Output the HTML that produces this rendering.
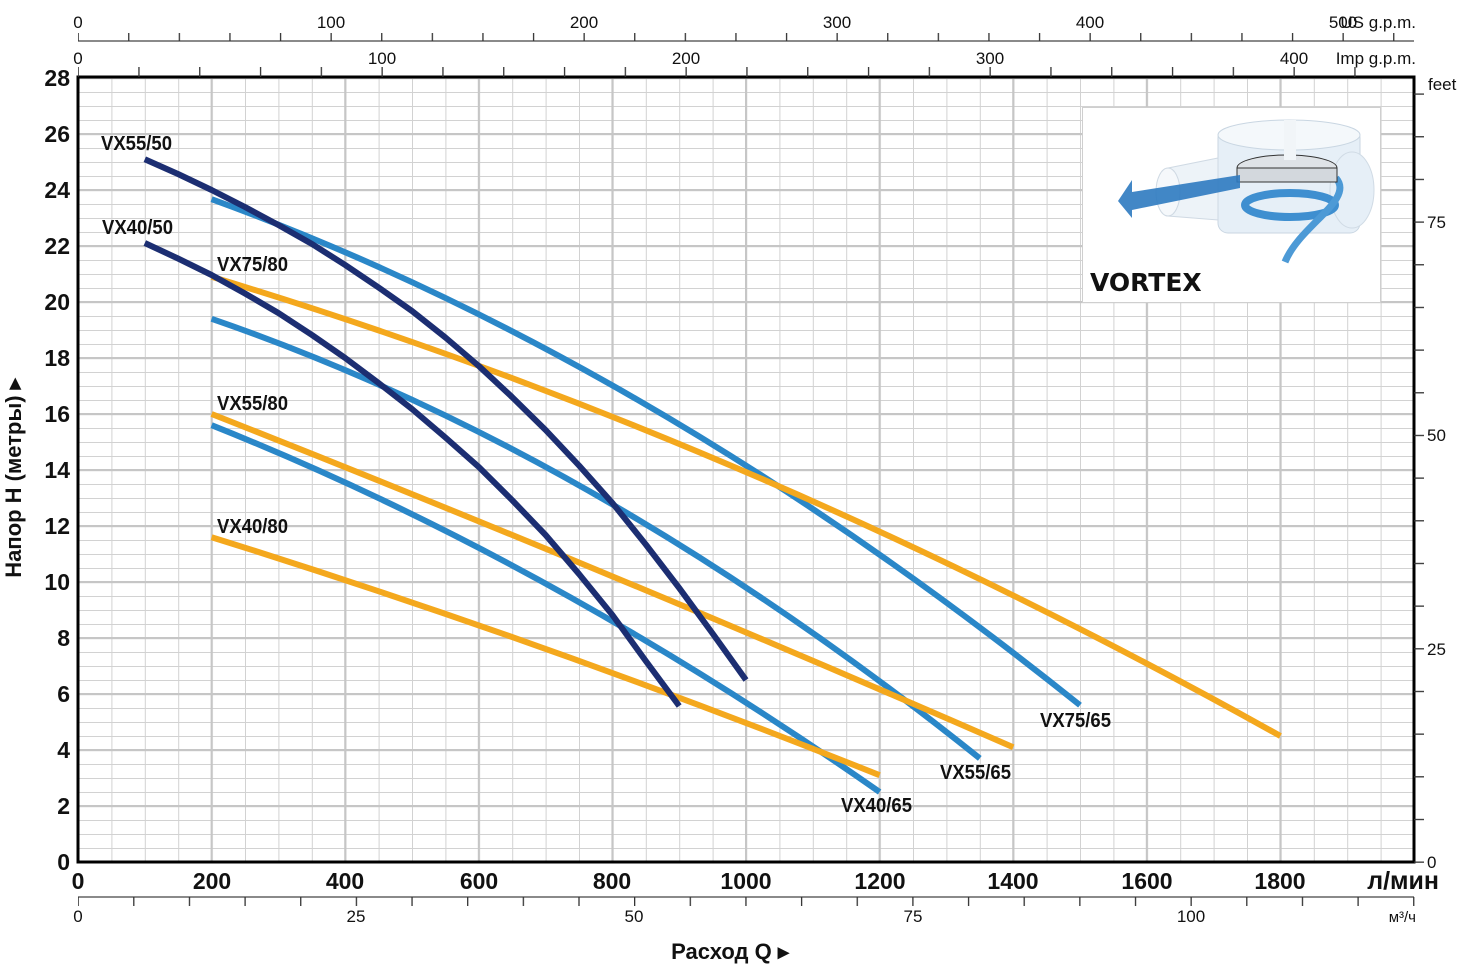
<!DOCTYPE html>
<html><head><meta charset="utf-8"><style>
html,body{margin:0;padding:0;background:#fff;}
svg{display:block;}
.tk{font-family:"Liberation Sans Narrow","Liberation Sans",sans-serif;font-size:17px;fill:#111;}
.bl{font-family:"Liberation Sans Narrow","Liberation Sans",sans-serif;font-weight:bold;font-size:23px;fill:#111;}
.lab{font-family:"Liberation Sans Narrow","Liberation Sans",sans-serif;font-weight:bold;font-size:20px;fill:#111;}
</style></head><body>
<svg width="1477" height="967" viewBox="0 0 1477 967" xmlns="http://www.w3.org/2000/svg">
<defs>
<pattern id="gv" x="78" y="0" width="33.4" height="10" patternUnits="userSpaceOnUse"><rect x="0" y="0" width="1" height="10" fill="#d2d2d2"/></pattern>
<pattern id="gh" x="0" y="78" width="10" height="14" patternUnits="userSpaceOnUse"><rect x="0" y="0" width="10" height="1" fill="#d2d2d2"/></pattern>
<pattern id="Gv" x="77" y="0" width="133.6" height="10" patternUnits="userSpaceOnUse"><rect x="0" y="0" width="2.2" height="10" fill="#c6c6c6"/></pattern>
<pattern id="Gh" x="0" y="77" width="10" height="56" patternUnits="userSpaceOnUse"><rect x="0" y="0" width="10" height="2.2" fill="#c6c6c6"/></pattern>
<pattern id="tUS" x="77.5" y="0" width="50.6" height="10" patternUnits="userSpaceOnUse"><rect x="0" y="0" width="1.3" height="10" fill="#333"/></pattern>
<pattern id="tIMP" x="77.5" y="0" width="60.8" height="10" patternUnits="userSpaceOnUse"><rect x="0" y="0" width="1.3" height="10" fill="#333"/></pattern>
<pattern id="tM3" x="77.5" y="0" width="55.65" height="10" patternUnits="userSpaceOnUse"><rect x="0" y="0" width="1.3" height="10" fill="#333"/></pattern>
<pattern id="tFT" x="0" y="861.5" width="10" height="42.67" patternUnits="userSpaceOnUse"><rect x="0" y="0" width="10" height="1.3" fill="#333"/></pattern>
</defs>
<rect x="78" y="78" width="1336" height="784" fill="url(#gv)"/>
<rect x="78" y="78" width="1336" height="784" fill="url(#gh)"/>
<rect x="78" y="78" width="1336" height="784" fill="url(#Gv)"/>
<rect x="78" y="78" width="1336" height="784" fill="url(#Gh)"/>
<rect x="78" y="77" width="1336" height="785" fill="none" stroke="#000" stroke-width="3"/>

<line x1="78" y1="41" x2="1414" y2="41" stroke="#444" stroke-width="1.3"/>
<rect x="78" y="33" width="1337" height="8" fill="url(#tUS)"/>
<g class="tk" text-anchor="middle">
<text x="78" y="28">0</text><text x="331" y="28">100</text><text x="584" y="28">200</text><text x="837" y="28">300</text><text x="1090" y="28">400</text><text x="1343" y="28">500</text>
</g>
<text class="tk" x="1416" y="28" text-anchor="end">US g.p.m.</text>
<rect x="78" y="67" width="1337" height="10" fill="url(#tIMP)"/>
<g class="tk" text-anchor="middle">
<text x="78" y="64">0</text><text x="382" y="64">100</text><text x="686" y="64">200</text><text x="990" y="64">300</text><text x="1294" y="64">400</text>
</g>
<text class="tk" x="1416" y="64" text-anchor="end">Imp g.p.m.</text>

<rect x="1414" y="93" width="10" height="770" fill="url(#tFT)"/>
<g class="tk">
<text x="1427" y="868">0</text><text x="1427" y="655">25</text><text x="1427" y="441">50</text><text x="1427" y="228">75</text><text x="1428" y="90">feet</text>
</g>

<g class="bl" text-anchor="end">
<text x="70" y="870">0</text><text x="70" y="814">2</text><text x="70" y="758">4</text><text x="70" y="702">6</text><text x="70" y="646">8</text>
<text x="70" y="590">10</text><text x="70" y="534">12</text><text x="70" y="478">14</text><text x="70" y="422">16</text><text x="70" y="366">18</text>
<text x="70" y="310">20</text><text x="70" y="254">22</text><text x="70" y="198">24</text><text x="70" y="142">26</text><text x="70" y="86">28</text>
</g>
<text class="bl" transform="translate(21,478) rotate(-90)" text-anchor="middle" style="font-size:22px">Напор H (метры) ▸</text>

<g class="bl" text-anchor="middle">
<text x="78" y="889">0</text><text x="212" y="889">200</text><text x="345" y="889">400</text><text x="479" y="889">600</text><text x="612" y="889">800</text>
<text x="746" y="889">1000</text><text x="880" y="889">1200</text><text x="1013" y="889">1400</text><text x="1147" y="889">1600</text><text x="1280" y="889">1800</text>
</g>
<text class="bl" x="1439" y="889" text-anchor="end" style="font-size:25px">л/мин</text>
<line x1="78" y1="897" x2="1414" y2="897" stroke="#444" stroke-width="1.3"/>
<rect x="78" y="897" width="1337" height="9" fill="url(#tM3)"/>
<g class="tk" text-anchor="middle">
<text x="78" y="922">0</text><text x="356" y="922">25</text><text x="634" y="922">50</text><text x="913" y="922">75</text><text x="1191" y="922">100</text>
</g>
<text class="tk" x="1416" y="922" text-anchor="end" style="font-size:15px">м³/ч</text>
<text class="bl" x="730" y="959" text-anchor="middle" style="font-size:22px">Расход  Q  ▸</text>

<g fill="none" stroke-width="6" stroke-linejoin="round">
<path d="M211.6,199.2 Q645.8,357 1080,705.2" stroke="#2a87c8"/>
<path d="M211.6,318.8 Q595.7,451 979.8,758.4" stroke="#2a87c8"/>
<path d="M211.6,425.2 Q545.6,558.5 879.6,792" stroke="#2a87c8"/>
<path d="M211.6,276.8 Q746,437.7 1280.4,736" stroke="#f4a81d"/>
<path d="M211.6,414 Q612.4,572.2 1013.2,747.2" stroke="#f4a81d"/>
<path d="M211.6,537.2 Q545.6,641.6 879.6,775.2" stroke="#f4a81d"/>
<polyline points="144.8,159.2 178,174 211.6,190 245,207 278.4,225 312,244 345.2,265 378.6,287.5 412,311 445.4,337.5 478.8,366 512,397 545.6,430 579,465.5 612.4,503 645.8,544.5 679.2,588 712.6,633.5 746,680" stroke="#1c2e72"/>
<polyline points="144.8,243 178,258.5 211.6,275 245,293.5 278.4,313 312,335 345.2,358 378.6,383 412,409 445.4,437.5 478.8,467 512,500 545.6,535 579,574 612.4,615 645.8,661 679.2,706" stroke="#1c2e72"/>
</g>

<g class="lab">
<text x="101" y="150" textLength="71" lengthAdjust="spacingAndGlyphs">VX55/50</text>
<text x="102" y="234" textLength="71" lengthAdjust="spacingAndGlyphs">VX40/50</text>
<text x="217" y="271" textLength="71" lengthAdjust="spacingAndGlyphs">VX75/80</text>
<text x="217" y="410" textLength="71" lengthAdjust="spacingAndGlyphs">VX55/80</text>
<text x="217" y="533" textLength="71" lengthAdjust="spacingAndGlyphs">VX40/80</text>
<text x="1040" y="727" textLength="71" lengthAdjust="spacingAndGlyphs">VX75/65</text>
<text x="940" y="779" textLength="71" lengthAdjust="spacingAndGlyphs">VX55/65</text>
<text x="841" y="812" textLength="71" lengthAdjust="spacingAndGlyphs">VX40/65</text>
</g>

<rect x="1082.5" y="107.5" width="298" height="195" fill="#fff" stroke="#cfcfcf" stroke-width="1"/>
<g>
<rect x="1218" y="128" width="142" height="105" rx="10" fill="#e6eff7" stroke="#c9d6e2"/>
<ellipse cx="1289" cy="135" rx="71" ry="15" fill="#f4f8fb" stroke="#c9d6e2"/>
<ellipse cx="1352" cy="190" rx="22" ry="38" fill="#e6eff7" stroke="#d0dbe5"/>
<path d="M1168,168 L1218,158 L1218,220 L1168,216 Z" fill="#edf3f8" stroke="#cfd9e3"/>
<ellipse cx="1168" cy="192" rx="12" ry="24" fill="#f5f8fb" stroke="#cfd9e3"/>
<ellipse cx="1290" cy="205" rx="45" ry="12" fill="none" stroke="#3f8fd0" stroke-width="8"/>
<path d="M1336,178 C1355,200 1300,225 1285,262" fill="none" stroke="#4d9ad6" stroke-width="7"/>
<ellipse cx="1287" cy="168" rx="50" ry="13" fill="#dfe3e7" stroke="#333" stroke-width="1"/>
<rect x="1237" y="168" width="100" height="14" fill="#d3d8dd" stroke="#333" stroke-width="1"/>
<path d="M1118,201 L1132,180 L1132,192 L1240,175 L1240,188 L1132,210 L1132,218 Z" fill="#2d7ac0" opacity="0.9"/>
<rect x="1284" y="120" width="12" height="40" fill="#f1f5f8"/>
</g>
<text x="1090" y="291" style="font-family:'DejaVu Sans','Liberation Sans',sans-serif;font-weight:bold;font-size:25px;fill:#111">VORTEX</text>
</svg>
</body></html>
